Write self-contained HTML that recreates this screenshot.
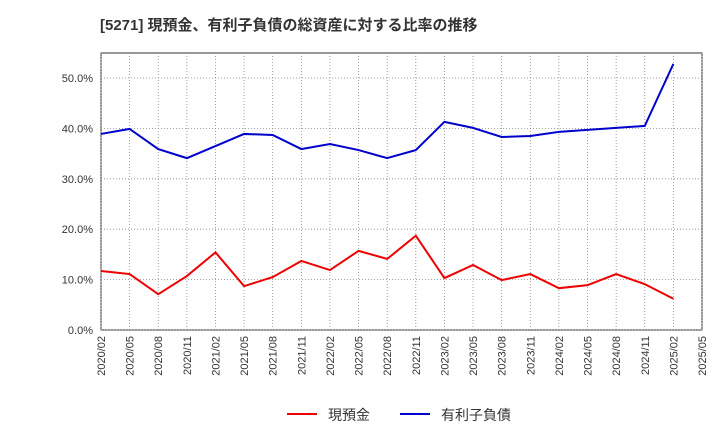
<!DOCTYPE html>
<html><head><meta charset="utf-8"><style>
body{margin:0;background:#fff;font-family:"Liberation Sans","Noto Sans CJK JP",sans-serif;}
</style></head><body>
<svg id="chart" width="720" height="440" xmlns="http://www.w3.org/2000/svg" font-family="Liberation Sans, Noto Sans CJK JP, sans-serif">
<text x="100" y="30" font-size="15" font-weight="bold" fill="#333">[5271]  現預金、有利子負債の総資産に対する比率の推移</text>
<rect x="101" y="53" width="601" height="277" fill="none" stroke="#333" stroke-width="1"/>
<g id="grid"></g><g id="axes"></g><g id="series"></g>
<g>
<line x1="287" y1="414" x2="317" y2="414" stroke="#e00" stroke-width="2"/>
<text x="328" y="420" font-size="14" fill="#333">現預金</text>
<line x1="400" y1="414" x2="430" y2="414" stroke="#00c" stroke-width="2"/>
<text x="441" y="420" font-size="14" fill="#333">有利子負債</text>
</g>
</svg>
<script>
const xLabels=["2020/02","2020/05","2020/08","2020/11","2021/02","2021/05","2021/08","2021/11","2022/02","2022/05","2022/08","2022/11","2023/02","2023/05","2023/08","2023/11","2024/02","2024/05","2024/08","2024/11","2025/02","2025/05"];
const yTicks=[0,10,20,30,40,50];
const cash=[11.7,11.1,7.1,10.7,15.4,8.7,10.5,13.7,11.9,15.7,14.1,18.7,10.3,12.9,9.9,11.1,8.3,8.9,11.1,9.1,6.2];
const debt=[38.9,39.9,35.9,34.1,36.5,38.9,38.7,35.9,36.9,35.7,34.1,35.7,41.3,40.1,38.3,38.5,39.3,39.7,40.1,40.5,52.8];
const NS="http://www.w3.org/2000/svg";
const X0=101,X1=702,Y0=330,Y50=78;
function xs(i){return X0+i*(X1-X0)/(xLabels.length-1);}
function ys(v){return Y0-v*(Y0-Y50)/50;}
const grid=document.getElementById('grid'),axes=document.getElementById('axes'),ser=document.getElementById('series');
function mk(t,a,p){const e=document.createElementNS(NS,t);for(const k in a)e.setAttribute(k,a[k]);p.appendChild(e);return e;}
yTicks.forEach(v=>{
 const g=mk('line',{x1:X0,x2:X1,y1:ys(v),y2:ys(v),stroke:'#888','stroke-dasharray':'1,2','stroke-width':0.8},grid);
 
 
 const t=mk('text',{x:X0-8,y:ys(v)+4,'text-anchor':'end','font-size':11,fill:'#333'},axes);
 t.textContent=v.toFixed(1)+'%';
 
 
});
xLabels.forEach((l,i)=>{
 const g=mk('line',{x1:xs(i),x2:xs(i),y1:53,y2:Y0,stroke:'#888','stroke-dasharray':'1,2','stroke-width':0.8},grid);
 
 
 const x=xs(i),y=Y0+6;
 const t=mk('text',{x:x+4,y:y,'text-anchor':'end','font-size':11,fill:'#333',transform:`rotate(-90 ${x+4} ${y})`},axes);
 t.textContent=l;
 
 
});
function line(d,c,n){
 const p=mk('polyline',{points:d.map((v,i)=>xs(i)+','+ys(v)).join(' '),fill:'none',stroke:c,'stroke-width':2},ser);
 
 
}
line(cash,'#e00','cash-line');
line(debt,'#00c','debt-line');
</script>
</body></html>
